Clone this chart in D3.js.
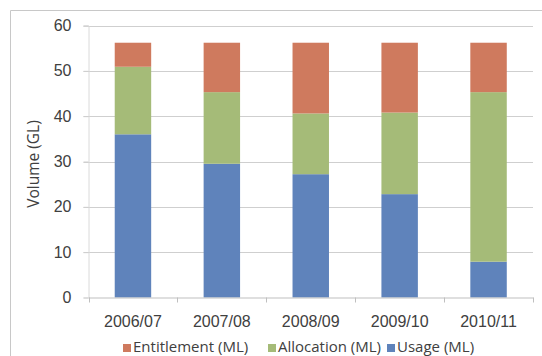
<!DOCTYPE html>
<html>
<head>
<meta charset="utf-8">
<script src="https://cdn.jsdelivr.net/npm/d3@7"></script>
<style>
    body { margin: 0; background: white; }
    svg { font-family: 'Open Sans', Lato, sans-serif; }
    .tick text { fill: #404040; font-size: 16px; }
</style>
</head>
<body>
<div id="chart"></div>
<script>
// values, GL
var seasons = ['2006/07', '2007/08', '2008/09', '2009/10', '2010/11']
var usage = [36.0, 29.5, 27.2, 22.8, 7.9]
var allocation = [14.9, 15.8, 13.4, 18.0, 37.4]
var entitlement = [5.3, 10.9, 15.6, 15.4, 10.9]
var yTicks = [0, 10, 20, 30, 40, 50, 60]

var seriesNames = ['Usage (ML)', 'Allocation (ML)', 'Entitlement (ML)']
var colorOf = { 'Usage (ML)': '#5f83bb', 'Allocation (ML)': '#a5bb78', 'Entitlement (ML)': '#cf7a5e' }

var width = 542, height = 356
var plot = { left: 88.5, right: 533, top: 25.5, bottom: 297.5 }

var svg = d3.select('#chart').append('svg')
    .attr('width', width)
    .attr('height', height)

// chart frame (only the left and top edges fall inside the picture)
svg.append('path')
    .attr('d', 'M10.5,' + height + 'V10.5H' + width)
    .attr('fill', 'none')
    .attr('stroke', '#c8c8c8')

var rows = seasons.map(function (s, i) {
    return { season: s, 'Usage (ML)': usage[i], 'Allocation (ML)': allocation[i], 'Entitlement (ML)': entitlement[i] }
})
var stacked = d3.stack().keys(seriesNames)(rows)

var x = d3.scaleBand()
    .domain(seasons)
    .range([plot.left, plot.right])
    .paddingInner(0.59)
    .paddingOuter(0.295)

var y = d3.scaleLinear()
    .domain([0, 60])
    .range([plot.bottom, plot.top])

// gridlines
svg.append('g')
    .selectAll('line')
    .data(yTicks.slice(1))
    .join('line')
    .attr('x1', plot.left - 5)
    .attr('x2', plot.right)
    .attr('y1', function (d) { return Math.round(y(d)) + 0.5 })
    .attr('y2', function (d) { return Math.round(y(d)) + 0.5 })
    .attr('stroke', '#cfcfcf')

// y axis
var yAxis = svg.append('g')
    .attr('transform', 'translate(' + plot.left + ',0)')
    .call(d3.axisLeft(y).tickValues(yTicks).tickSize(5).tickPadding(12))
yAxis.select('.domain').attr('stroke', '#dadada')
yAxis.selectAll('.tick line').attr('stroke', '#cfcfcf')

// bars
svg.append('g')
    .selectAll('g')
    .data(stacked)
    .join('g')
    .attr('fill', function (d) { return colorOf[d.key] })
    .selectAll('rect')
    .data(function (d) { return d })
    .join('rect')
    .attr('x', function (d) { return x(d.data.season) })
    .attr('width', x.bandwidth())
    .attr('y', function (d) { return y(d[1]) })
    .attr('height', function (d) { return y(d[0]) - y(d[1]) })

// x axis with ticks between categories
var xAxis = svg.append('g')
    .attr('transform', 'translate(0,' + plot.bottom + ')')
    .call(d3.axisBottom(x).tickSize(0))
xAxis.select('.domain').attr('stroke', '#bfbfbf')
xAxis.selectAll('.tick text').attr('y', 29).attr('dy', null)
xAxis.selectAll('.sep')
    .data(d3.range(seasons.length + 1))
    .join('line')
    .attr('class', 'sep')
    .attr('x1', function (i) { return Math.round(plot.left + i * x.step()) + 0.5 })
    .attr('x2', function (i) { return Math.round(plot.left + i * x.step()) + 0.5 })
    .attr('y1', 0)
    .attr('y2', 5)
    .attr('stroke', '#bfbfbf')

// y title
svg.append('text')
    .attr('transform', 'translate(39,164) rotate(-90)')
    .attr('text-anchor', 'middle')
    .attr('fill', '#404040')
    .style('font-size', '15.5px')
    .text('Volume (GL)')

// legend
var legendItems = [
    { name: 'Entitlement (ML)', x: 123 },
    { name: 'Allocation (ML)', x: 268 },
    { name: 'Usage (ML)', x: 387 }
]
var legend = svg.append('g')
    .selectAll('g')
    .data(legendItems)
    .join('g')
    .attr('transform', function (d) { return 'translate(' + d.x + ',352)' })
legend.append('rect')
    .attr('y', -8)
    .attr('width', 8)
    .attr('height', 8)
    .attr('fill', function (d) { return colorOf[d.name] })
legend.append('text')
    .attr('x', 10)
    .attr('fill', '#404040')
    .style('font-size', '15px')
    .text(function (d) { return d.name })
</script>
</body>
</html>
